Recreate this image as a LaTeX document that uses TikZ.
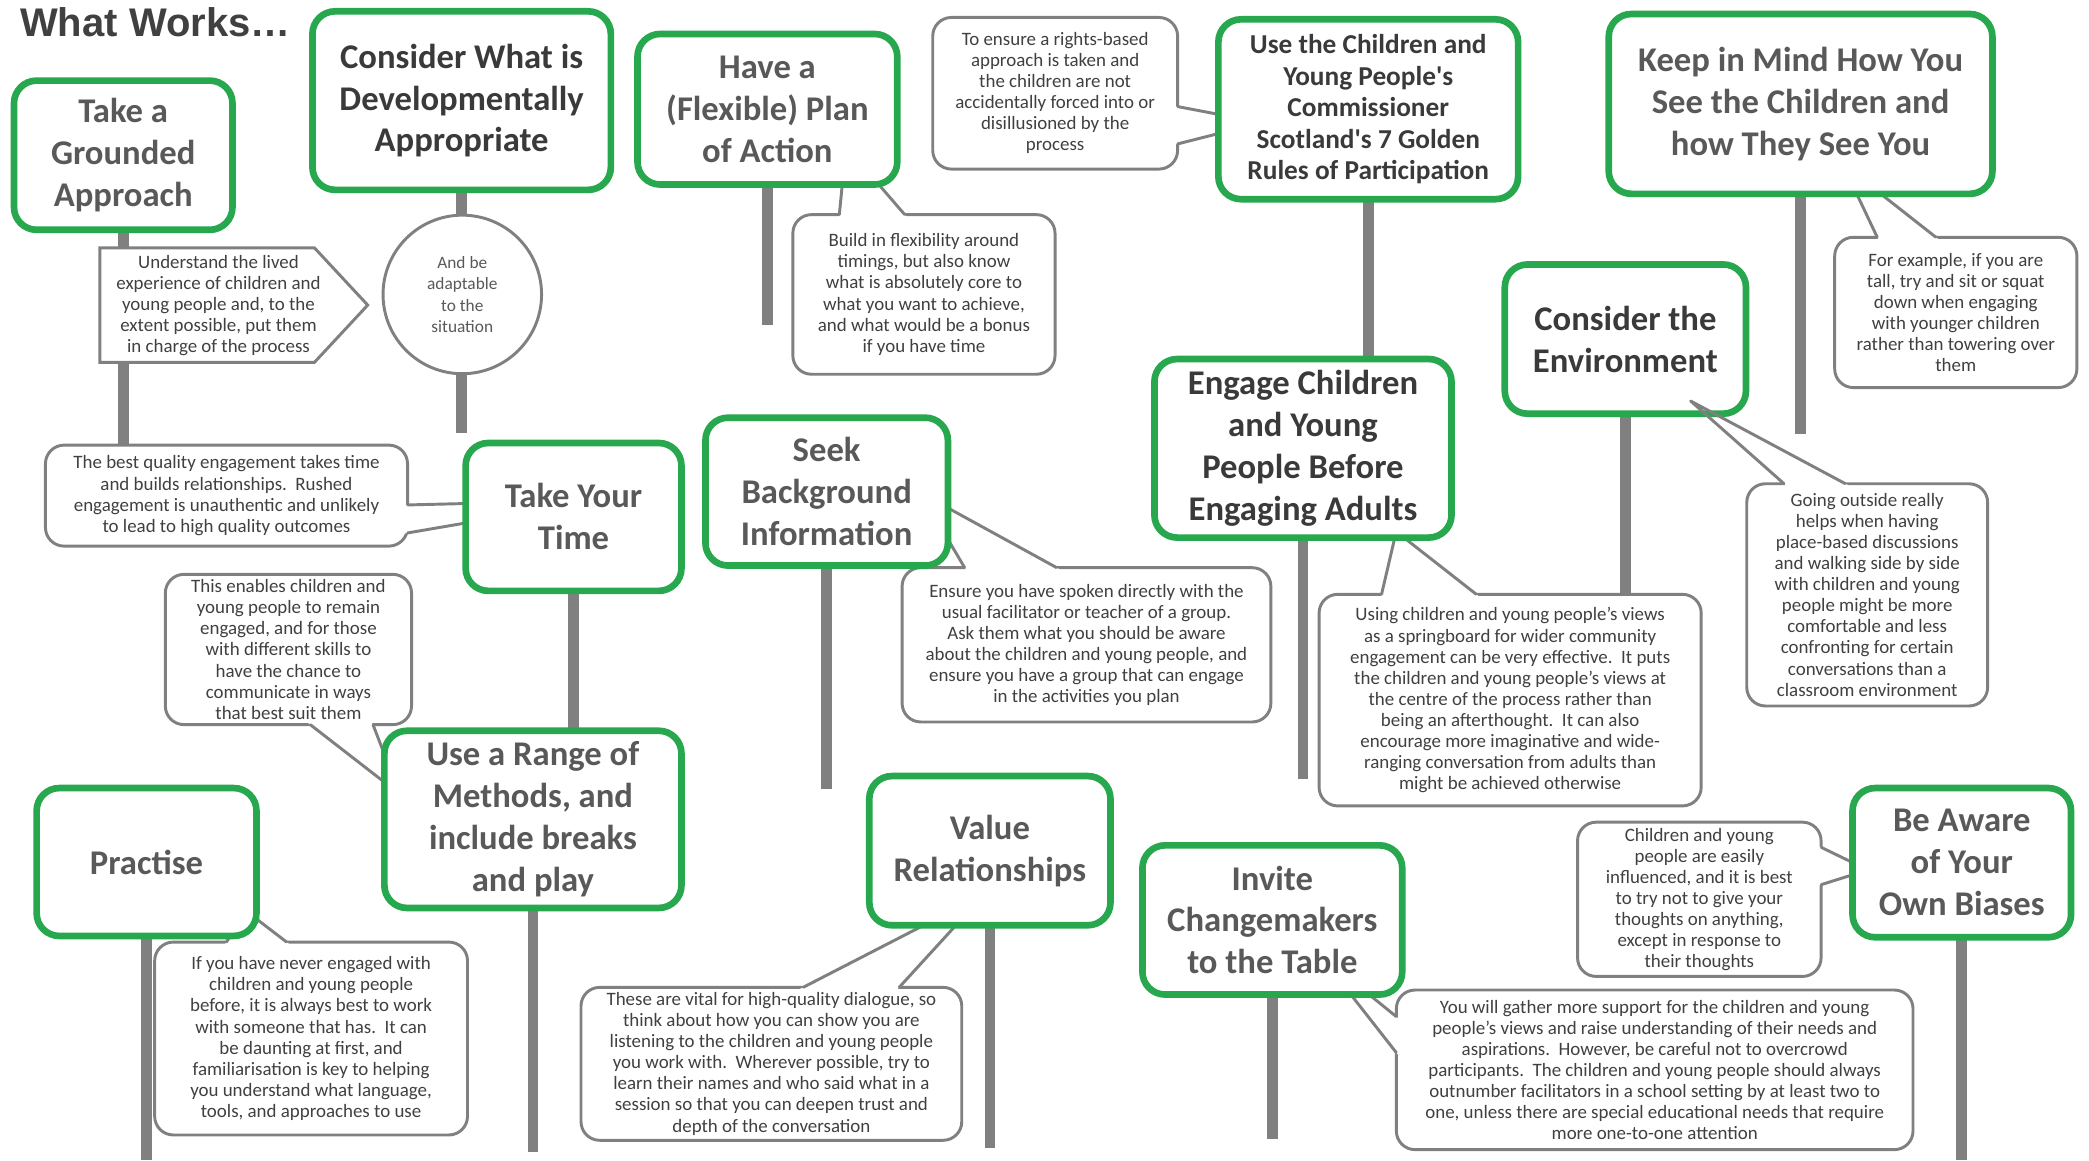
\documentclass[tikz,border=0pt]{standalone}
\usepackage{fontspec}
\setmainfont{Carlito}[Ligatures=TeXOff]
\newfontfamily\headfont{Liberation Sans}
\usetikzlibrary{calc,backgrounds}
\definecolor{grn}{RGB}{40,168,78}
\definecolor{stemgray}{RGB}{128,128,128}
\definecolor{linegray}{RGB}{128,128,128}
\definecolor{darktxt}{RGB}{58,58,58}
\definecolor{midtxt}{RGB}{89,89,89}
\definecolor{bodytxt}{RGB}{64,64,64}
\tikzset{
 tbox/.style={draw=grn, line width=5pt, rounded corners=17pt, fill=white, align=center,
   inner sep=0pt, outer sep=0pt, font=\bfseries\fontsize{26}{31.5}\selectfont, text=midtxt},
 dk/.style={text=darktxt},
 callout/.style={draw=linegray, line width=2.2pt, rounded corners=14pt, fill=white, align=center,
   inner sep=0pt, outer sep=0pt, font=\fontsize{14.2}{15.8}\selectfont, text=bodytxt},
 ctext/.style={align=center, inner sep=0pt, font=\fontsize{14.2}{15.8}\selectfont, text=bodytxt},
 stem/.style={draw=stemgray, line width=8pt},
 tailline/.style={draw=linegray, line width=2.2pt, line join=round, line cap=round},
}
\newcommand\mkbox[7][]{\node[tbox,#1,minimum width={#5-#3-5},minimum height={#6-#4-5}] (#2) at ({(#3+#5)/2},{(#4+#6)/2}) {#7};}
\newcommand\mkcallout[7][]{\node[callout,#1,minimum width={#5-#3-2.2},minimum height={#6-#4-2.2}] (#2) at ({(#3+#5)/2},{(#4+#6)/2}) {#7};}
\newcommand\calltail[3]{\fill[white] ($(#1)!-5pt!(#2)$) -- (#2) -- ($(#3)!-5pt!(#2)$) -- cycle;
  \draw[tailline] (#1) -- (#2) -- (#3);}
\begin{document}
\begin{tikzpicture}[x=1pt,y=-1pt]
\useasboundingbox (0,0) rectangle (1568,871);

% heading
\node[anchor=west, inner sep=0pt, font=\headfont\bfseries\fontsize{30}{35}\selectfont, text={rgb,255:red,64;green,64;blue,64}] (head) at (15,17) {What Works…};

% callouts
\mkcallout{cR}{699}{12}{885}{128}{To ensure a rights-based\\approach is taken and\\the children are not\\accidentally forced into or\\disillusioned by the\\process}
\mkcallout{cC}{594}{160}{793}{282}{Build in flexibility around\\timings, but also know\\what is absolutely core to\\what you want to achieve,\\and what would be a bonus\\if you have time}
\mkcallout{cF}{1376}{177}{1560}{292}{For example, if you are\\tall, try and sit or squat\\down when engaging\\with younger children\\rather than towering over\\them}
\mkcallout{cG}{1310}{362}{1493}{531}{Going outside really\\helps when having\\place-based discussions\\and walking side by side\\with children and young\\people might be more\\comfortable and less\\confronting for certain\\conversations than a\\classroom environment}
\mkcallout{cE}{989}{445}{1278}{606}{Using children and young people’s views\\as a springboard for wider community\\engagement can be very effective.\ \ It puts\\the children and young people’s views at\\the centre of the process rather than\\being an afterthought.\ \ It can also\\encourage more imaginative and wide-\\ranging conversation from adults than\\might be achieved otherwise}
\mkcallout{cH}{33}{333}{307}{411}{The best quality engagement takes time\\and builds relationships.\ \ Rushed\\engagement is unauthentic and unlikely\\to lead to high quality outcomes}
\mkcallout{cI}{123}{430}{310}{545}{This enables children and\\young people to remain\\engaged, and for those\\with different skills to\\have the chance to\\communicate in ways\\that best suit them}
\mkcallout{cJ}{676}{425}{955}{543}{Ensure you have spoken directly with the\\usual facilitator or teacher of a group.\\Ask them what you should be aware\\about the children and young people, and\\ensure you have a group that can engage\\in the activities you plan}
\mkcallout{cK}{115}{706}{352}{853}{If you have never engaged with\\children and young people\\before, it is always best to work\\with someone that has.\ \ It can\\be daunting at first, and\\familiarisation is key to helping\\you understand what language,\\tools, and approaches to use}
\mkcallout{cL}{435}{740}{723}{857}{These are vital for high-quality dialogue, so\\think about how you can show you are\\listening to the children and young people\\you work with.\ \ Wherever possible, try to\\learn their names and who said what in a\\session so that you can deepen trust and\\depth of the conversation}
\mkcallout{cM}{1047}{742}{1437}{864}{You will gather more support for the children and young\\people’s views and raise understanding of their needs and\\aspirations.\ \ However, be careful not to overcrowd\\participants.\ \ The children and young people should always\\outnumber facilitators in a school setting by at least two to\\one, unless there are special educational needs that require\\more one-to-one attention}
\mkcallout{cN}{1183}{616}{1368}{734}{Children and young\\people are easily\\influenced, and it is best\\to try not to give your\\thoughts on anything,\\except in response to\\their thoughts}

% arrow-shaped callout and circle
\draw[draw=linegray, line width=2.2pt, fill=white] (75,186) -- (236,186) -- (276,229) -- (236,272) -- (75,272) -- cycle;
\node[ctext] (cA) at (164,229.5) {Understand the lived\\experience of children and\\young people and, to the\\extent possible, put them\\in charge of the process};
\node[circle, draw=linegray, line width=2.2pt, fill=white, minimum size=119pt, inner sep=0pt, align=center,
  font=\fontsize{13}{16}\selectfont, text=midtxt] (cB) at (347,221) {And be\\adaptable\\to the\\situation};

% callout tails
\calltail{884,80}{947,92}{884,108}
\calltail{630,161}{635,110}{679,161}
\calltail{1037,446}{1048,399}{1108,446}
\calltail{1409,178}{1383,123}{1453,178}
\fill[white] ($(1339,363)!-5pt!(1269,301)$) -- (1269,301) -- ($(1385,363)!-5pt!(1269,301)$) -- cycle;
\calltail{306,379}{449,375.5}{306,400}
\calltail{233,544}{300,596}{280,544}
\calltail{724,426}{691,370}{793,426}
\calltail{170,707}{185,684}{215,707}
\calltail{603,741}{739,671}{675,741}
\calltail{1048,763}{990,716}{1048,790}
\calltail{1367,636}{1402,653}{1367,664}

% title boxes
\mkbox{bA}{8}{58}{177}{175}{Take a\\Grounded\\Approach}
\mkbox[dk]{bB}{232}{6}{461}{145}{Consider What is\\Developmentally\\Appropriate}
\mkbox{bC}{476}{23}{676}{141}{Have a\\(Flexible) Plan\\of Action}
\mkbox[dk,font=\bfseries\fontsize{20.5}{23.7}\selectfont]{bD}{912}{12}{1142}{152}{Use the Children and\\Young People's\\Commissioner\\Scotland's 7 Golden\\Rules of Participation}
\mkbox[dk]{bE}{864}{267}{1092}{406}{Engage Children\\and Young\\People Before\\Engaging Adults}
\mkbox{bF}{1205}{8}{1498}{148}{Keep in Mind How You\\See the Children and\\how They See You}
\mkbox[dk]{bG}{1127}{196}{1313}{313}{Consider the\\Environment}
\mkbox{bH}{347}{330}{514}{446}{Take Your\\Time}
\mkbox{bI}{286}{546}{514}{684}{Use a Range of\\Methods, and\\include breaks\\and play}
\mkbox{bJ}{527}{311}{714}{427}{Seek\\Background\\Information}
\mkbox{bK}{25}{589}{195}{705}{Practise}
\mkbox{bL}{650}{580}{836}{697}{Value\\Relationships}
\mkbox{bM}{855}{632}{1055}{749}{Invite\\Changemakers\\to the Table}
\mkbox{bN}{1388}{589}{1557}{706}{Be Aware\\of Your\\Own Biases}

% tail of the environment callout, over its box
\draw[tailline] (1339,363) -- (1269,301) -- (1385,363);

% stems, behind everything
\begin{pgfonlayer}{background}
\fill[white] (0,0) rectangle (1568,871);
\coordinate (eB) at (0,325);
\coordinate (eC) at (0,244);
\coordinate (eE) at (0,585);
\coordinate (eF) at (0,326);
\coordinate (eI) at (0,865);
\coordinate (eJ) at (0,592);
\coordinate (eK) at (0,871);
\coordinate (eL) at (0,862);
\coordinate (eM) at (0,855);
\coordinate (eN) at (0,871);
\draw[stem] (bA.center) -- (bA.center |- cH.north);
\draw[stem] (bB.center) -- (bB.center |- eB);
\draw[stem] (bC.center) -- (bC.center |- eC);
\draw[stem] (bD.center) -- (bD.center |- bE.north);
\draw[stem] (bE.center) -- (bE.center |- eE);
\draw[stem] (bF.center) -- (bF.center |- eF);
\draw[stem] (bG.center) -- (bG.center |- cE.north);
\draw[stem] (bH.center) -- (bH.center |- bI.north);
\draw[stem] (bI.center) -- (bI.center |- eI);
\draw[stem] (bJ.center) -- (bJ.center |- eJ);
\draw[stem] (bK.center) -- (bK.center |- eK);
\draw[stem] (bL.center) -- (bL.center |- eL);
\draw[stem] (bM.center) -- (bM.center |- eM);
\draw[stem] (bN.center) -- (bN.center |- eN);
\end{pgfonlayer}
\end{tikzpicture}
\end{document}
